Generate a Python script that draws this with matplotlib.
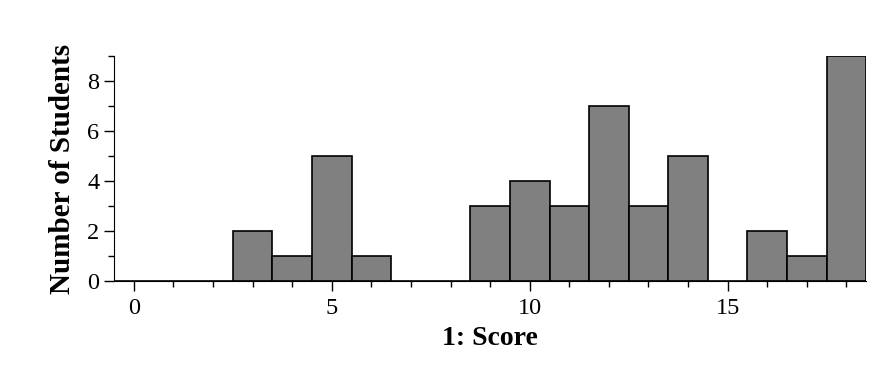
import numpy as np
import matplotlib.pyplot as plt
from matplotlib.ticker import MultipleLocator

# Pontuações e número de alunos em cada uma
pontuacoes = list(range(19))
alunos = [0, 0, 0, 2, 1, 5, 1, 0, 0, 3, 4, 3, 7, 3, 5, 0, 2, 1, 9]

plt.rcParams['font.family'] = ['Liberation Serif', 'DejaVu Serif']

fig = plt.figure(figsize=(8.93, 3.73), dpi=100)
ax = fig.add_axes([0.1277, 0.2466, 0.8423, 0.6034])

ax.bar(pontuacoes, alunos, width=1.0, color='#808080', edgecolor='black', linewidth=1.2)

ax.set_xlim(-0.5, 18.5)
ax.set_ylim(0, 9)

ax.spines['top'].set_visible(False)
ax.spines['right'].set_visible(False)

ax.xaxis.set_major_locator(MultipleLocator(5))
ax.xaxis.set_minor_locator(MultipleLocator(1))
ax.yaxis.set_major_locator(MultipleLocator(2))
ax.yaxis.set_minor_locator(MultipleLocator(1))
ax.tick_params(which='major', direction='out', length=7, width=1, labelsize=17.5)
ax.tick_params(axis='x', which='major', pad=5)
ax.tick_params(which='minor', direction='out', length=4, width=1)

ax.set_xlabel('1: Score', fontsize=20, fontweight='bold', labelpad=5)
ax.set_ylabel('Number of Students', fontsize=21, fontweight='bold', labelpad=8)

fig.savefig('out.png', dpi=100)
